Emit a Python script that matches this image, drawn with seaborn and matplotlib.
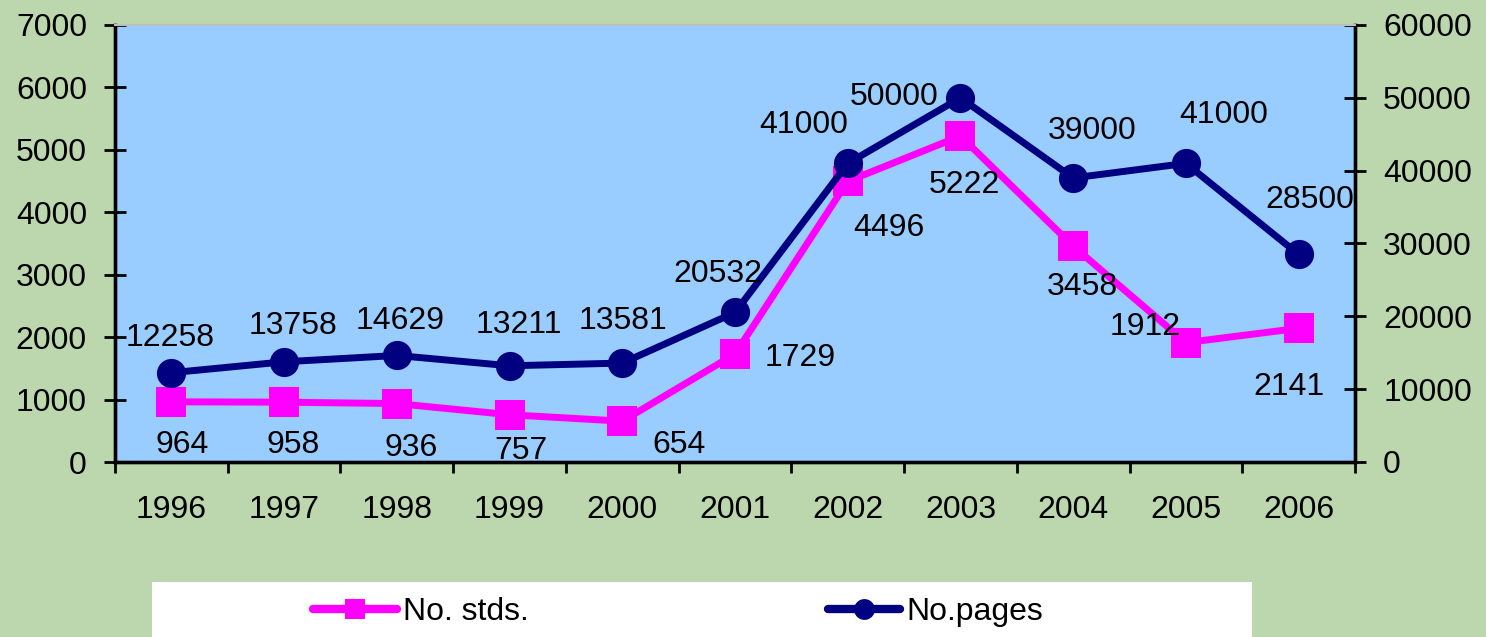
import numpy as np
import matplotlib
matplotlib.use("Agg")
import matplotlib.pyplot as plt
from matplotlib.lines import Line2D
from matplotlib.patches import Rectangle
import seaborn as sns

plt.rcParams['font.family'] = ['Liberation Sans', 'DejaVu Sans']

years = ["1996", "1997", "1998", "1999", "2000", "2001", "2002", "2003", "2004", "2005", "2006"]
stds = [964, 958, 936, 757, 654, 1729, 4496, 5222, 3458, 1912, 2141]
pages = [12258, 13758, 14629, 13211, 13581, 20532, 41000, 50000, 39000, 41000, 28500]
left_ticks = [0, 1000, 2000, 3000, 4000, 5000, 6000, 7000]
right_ticks = [0, 10000, 20000, 30000, 40000, 50000, 60000]

# label offsets (pixels, y up) relative to each point, baseline anchored
pages_off = [(-1, 27), (9, 28), (3, 26), (9, 33), (1, 34), (-17, 30), (-44, 30),
             (-66, -7), (19, 39), (38, 40), (11, 46)]
stds_off = [(11, -51), (9, -51), (14, -52), (11, -44), (57, -32), (65, -12),
            (41, -55), (4, -57), (9, -49), (-41, 8), (-10, -67)]

PINK = '#FF00FF'
NAVY = '#000080'
FS = 23

fig = plt.figure(figsize=(14.86, 6.37), dpi=100)
fig.patch.set_facecolor('#BCD6AE')
ax = fig.add_axes([115/1486, (637-462)/637, (1355-115)/1486, (462-25)/637])
ax.set_facecolor('#99CCFF')
ax2 = ax.twinx()

x = np.arange(len(years))
sns.lineplot(x=x, y=stds, ax=ax, color=PINK, marker='s', markersize=21,
             linewidth=5, markeredgewidth=0, legend=False)
sns.lineplot(x=x, y=pages, ax=ax2, color=NAVY, marker='o', markersize=21,
             linewidth=5, markeredgewidth=0, legend=False)

ax.set_xlim(-0.5, len(years) - 0.5)
ax.set_ylim(0, 7000)
ax2.set_ylim(0, 60000)

ax.set_xticks(np.arange(-0.5, len(years)), labels=[])
ax.set_xticks(x, labels=years, minor=True)
ax.tick_params(axis='x', which='major', direction='out', length=8, width=2)
ax.tick_params(axis='x', which='minor', length=0, pad=24, labelsize=FS)
ax.set_yticks(left_ticks)
ax.tick_params(axis='y', direction='inout', length=16.5, width=2, pad=12, labelsize=FS)
ax2.set_yticks(right_ticks)
ax2.tick_params(axis='y', direction='inout', length=16.5, width=2, pad=12, labelsize=FS)
ax.set_xlabel('')
ax.set_ylabel('')
ax2.set_ylabel('')

for a in (ax, ax2):
    for s in ('left', 'right', 'bottom'):
        a.spines[s].set_color('black')
        a.spines[s].set_linewidth(2.4)
    a.spines['top'].set_color('#BFBFBF')
    a.spines['top'].set_linewidth(1.5)

for xi, v, (dx, dy) in zip(x, pages, pages_off):
    ax2.annotate(str(v), (xi, v), xytext=(dx * 0.72, dy * 0.72), textcoords='offset points',
                 ha='center', va='baseline', fontsize=FS, color='black', zorder=5)
for xi, v, (dx, dy) in zip(x, stds, stds_off):
    ax.annotate(str(v), (xi, v), xytext=(dx * 0.72, dy * 0.72), textcoords='offset points',
                ha='center', va='baseline', fontsize=FS, color='black', zorder=5)

# legend box
fig.patches.append(Rectangle((152/1486, 0), 1100/1486, 55/637, transform=fig.transFigure,
                             facecolor='white', edgecolor='none', zorder=0))
h1 = Line2D([], [], color=PINK, marker='s', markersize=14, linewidth=6,
            markeredgewidth=0, solid_capstyle='round')
h2 = Line2D([], [], color=NAVY, marker='o', markersize=15, linewidth=6,
            markeredgewidth=0, solid_capstyle='round')
fig.legend(handles=[h1], labels=['No. stds.'], loc='center left',
           bbox_to_anchor=(313/1486, 25/637), frameon=False, borderpad=0,
           borderaxespad=0, handlelength=2.63, handletextpad=0.2, fontsize=FS)
fig.legend(handles=[h2], labels=['No.pages'], loc='center left',
           bbox_to_anchor=(828/1486, 25/637), frameon=False, borderpad=0,
           borderaxespad=0, handlelength=2.26, handletextpad=0.2, fontsize=FS)

fig.savefig('out.png', dpi=100, facecolor=fig.get_facecolor())
